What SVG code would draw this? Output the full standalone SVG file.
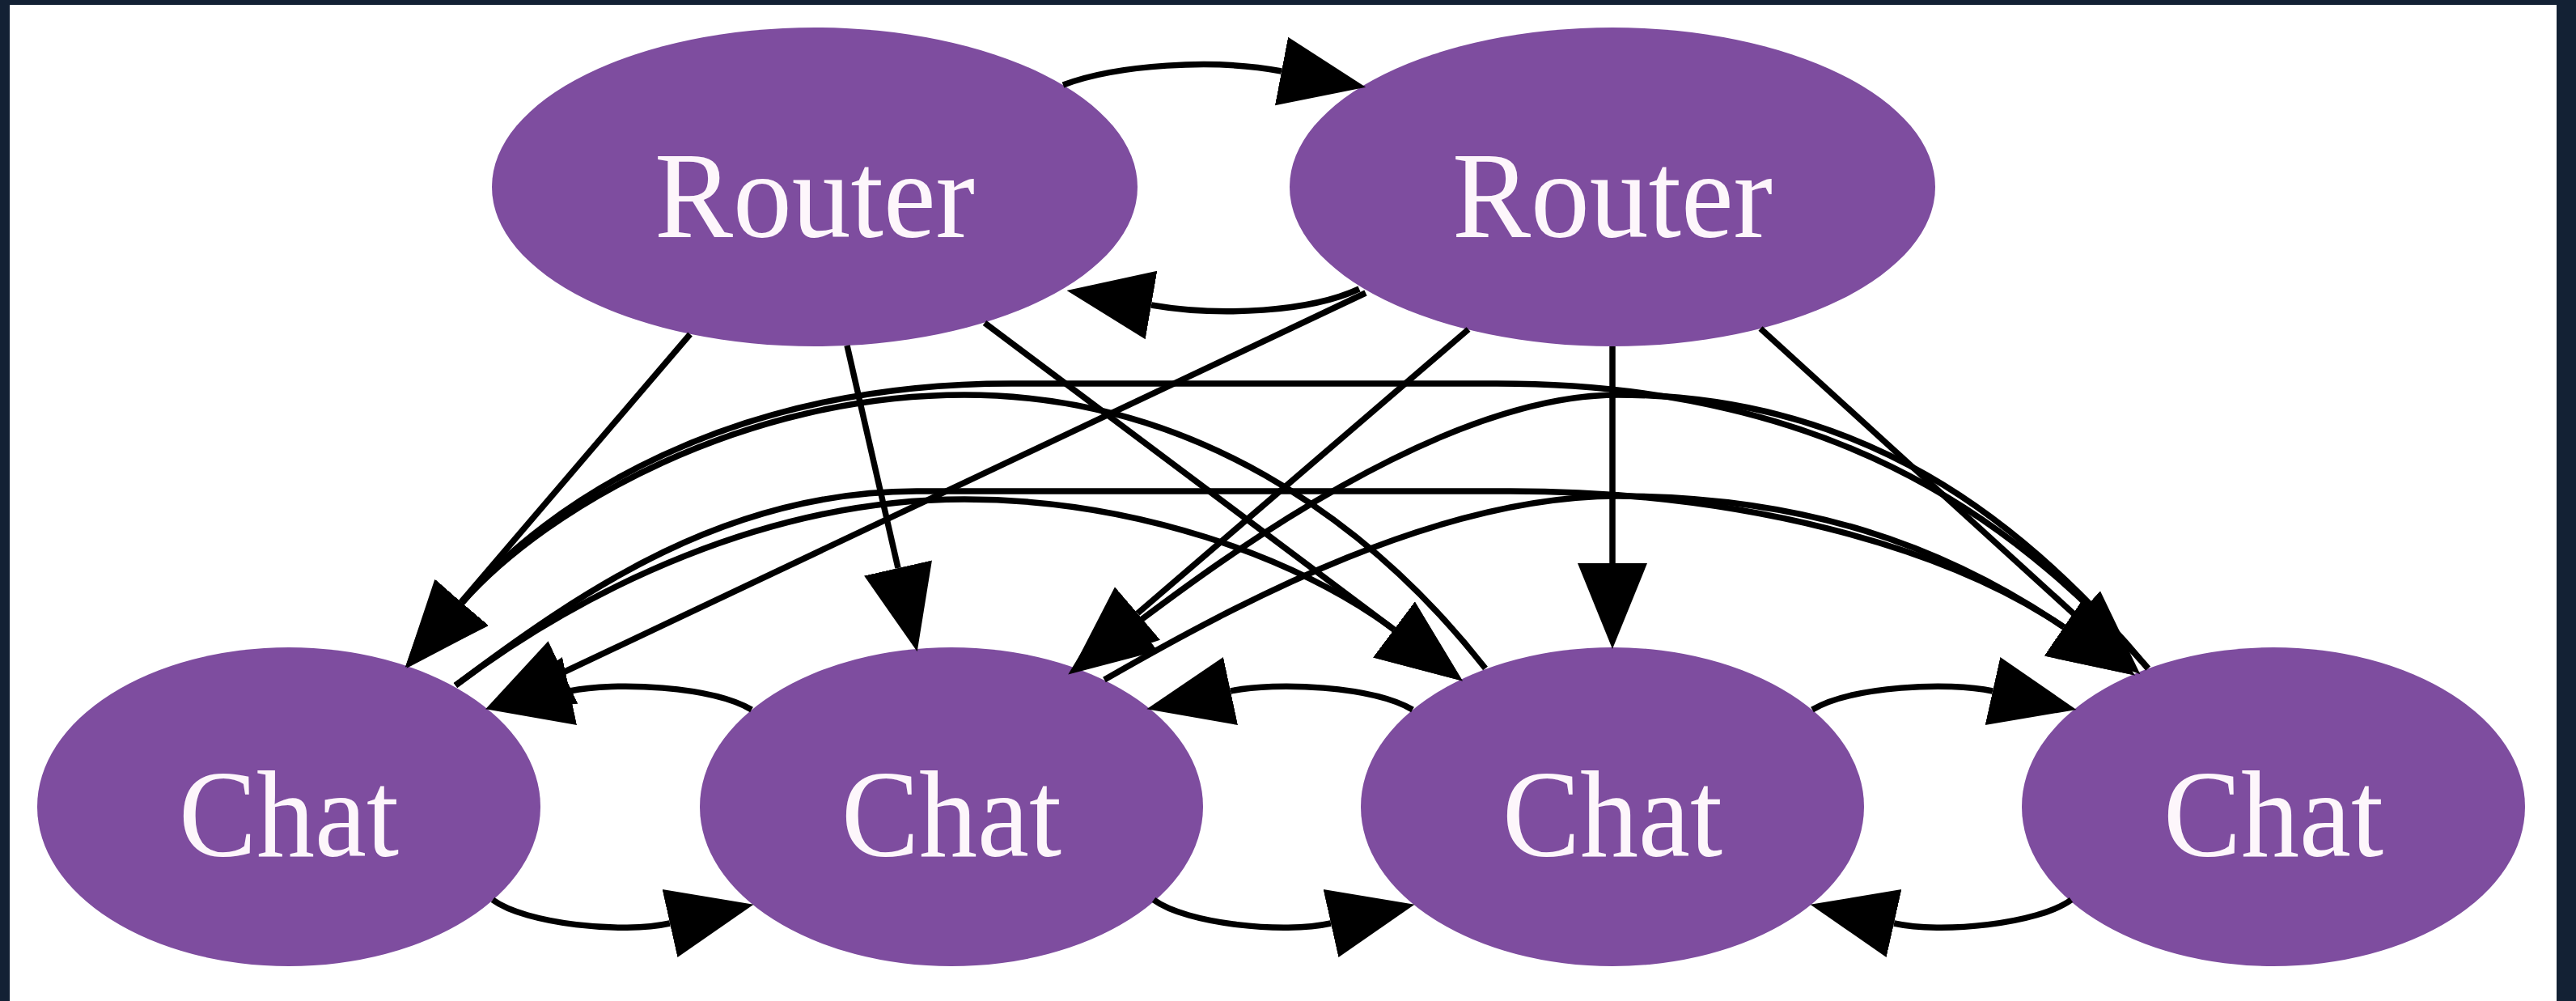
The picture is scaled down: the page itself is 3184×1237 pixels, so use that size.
<svg xmlns="http://www.w3.org/2000/svg" width="3184" height="1237" viewBox="0 0 3184 1237">
  <style>
    .node ellipse { fill: #7e4d9f; }
    .node text { font-family: "Liberation Serif", "Times New Roman", serif; font-size: 152px; fill: #fdf6fb; text-anchor: middle; }
    .edges path { fill: none; stroke: #000; stroke-width: 7.5; marker-end: url(#ah); }
  </style>
  <defs>
    <marker id="ah" markerUnits="userSpaceOnUse" viewBox="0 -48 114 96" markerWidth="114" markerHeight="96" refX="0" refY="0" orient="auto">
      <path d="M0,-43 L106,0 L0,43 Z" fill="#000"/>
    </marker>
  </defs>

  <!-- frame -->
  <rect x="0" y="0" width="3184" height="1237" fill="#132134"/>
  <rect x="12" y="6" width="3148" height="1231" fill="#ffffff"/>

  <!-- nodes -->
  <g id="router1" class="node"><ellipse cx="1007" cy="231" rx="399" ry="197"/><text x="1007" y="293" textLength="396" lengthAdjust="spacingAndGlyphs">Router</text></g>
  <g id="router2" class="node"><ellipse cx="1993" cy="231" rx="399" ry="197"/><text x="1993" y="293" textLength="396" lengthAdjust="spacingAndGlyphs">Router</text></g>
  <g id="chat1" class="node"><ellipse cx="357" cy="997" rx="311" ry="197"/><text x="357" y="1058" textLength="272" lengthAdjust="spacingAndGlyphs">Chat</text></g>
  <g id="chat2" class="node"><ellipse cx="1176" cy="997" rx="311" ry="197"/><text x="1176" y="1058" textLength="272" lengthAdjust="spacingAndGlyphs">Chat</text></g>
  <g id="chat3" class="node"><ellipse cx="1993" cy="997" rx="311" ry="197"/><text x="1993" y="1058" textLength="272" lengthAdjust="spacingAndGlyphs">Chat</text></g>
  <g id="chat4" class="node"><ellipse cx="2810" cy="997" rx="311" ry="197"/><text x="2810" y="1058" textLength="272" lengthAdjust="spacingAndGlyphs">Chat</text></g>

  <!-- connectors -->
  <g id="edges" class="edges">
    <!-- router to router -->
    <path d="M1314,105 C1380,80 1500,72 1584,88"/>
    <path d="M1680,357 C1620,385 1510,392 1423,377"/>
    <!-- router to chat -->
    <path d="M853,413 L570,744"/>
    <path d="M1047,427 L1110,702"/>
    <path d="M1217,399 L1723,778"/>
    <path d="M1688,362 L696,831"/>
    <path d="M1815,407 L1406,758"/>
    <path d="M1993,428 L1993,696"/>
    <path d="M2176,406 L2567,762"/>
    <!-- neighbouring chats, upper arcs -->
    <path d="M929,877 C880,848 760,842 704,854"/>
    <path d="M1746,877 C1697,848 1577,842 1521,854"/>
    <path d="M2240,877 C2289,848 2409,842 2463,854"/>
    <!-- neighbouring chats, lower arcs -->
    <path d="M609,1112 C650,1142 770,1154 828,1141"/>
    <path d="M1426,1112 C1467,1142 1587,1154 1645,1141"/>
    <path d="M2560,1112 C2519,1142 2399,1154 2341,1141"/>
    <!-- distant chats, high arches (right to left) -->
    <path d="M1836,826 C1690,640 1470,488 1192,488 C920,488 677,625 571,745"/>
    <path d="M2655,826 C2483,631 2250,474 1850,474 L1250,474 C900,474 677,620 571,745"/>
    <path d="M2655,826 C2500,640 2300,488 2000,488 C1780,488 1501,698 1405,770"/>
    <!-- distant chats, low arches (left to right) -->
    <path d="M563,847 C723,727 950,617 1192,617 C1400,617 1603,688 1723,778"/>
    <path d="M563,847 C723,727 900,607 1133,607 L1867,607 C2150,607 2402,674 2551,775"/>
    <path d="M1365,840 C1539,740 1780,613 2000,613 C2230,613 2402,674 2551,775"/>
  </g>
</svg>
